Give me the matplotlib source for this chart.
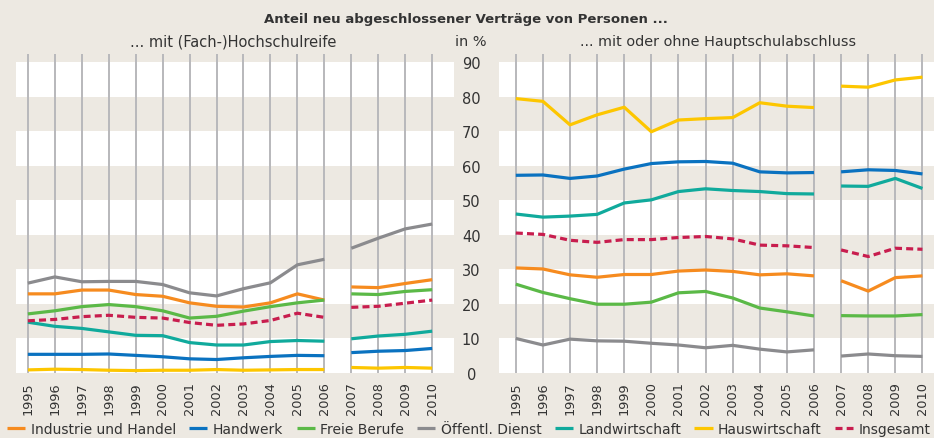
import matplotlib
matplotlib.use('Agg')
import matplotlib.pyplot as plt
import numpy as np

# Jahre und Daten (Anteil in %)
jahre = np.arange(1995, 2011)

# ... mit (Fach-)Hochschulreife
hs_industrie = [22.9, 22.9, 24.0, 24.0, 22.7, 22.2, 20.3, 19.3, 19.1, 20.3, 22.9, 21.1, 24.9, 24.7, 25.9, 27.0]
hs_handwerk = [5.4, 5.4, 5.4, 5.5, 5.1, 4.7, 4.1, 3.9, 4.4, 4.8, 5.1, 5.0, 5.9, 6.3, 6.5, 7.1]
hs_freie = [17.1, 18.0, 19.2, 19.8, 19.2, 18.0, 15.9, 16.4, 17.9, 19.2, 20.3, 21.1, 22.9, 22.7, 23.6, 24.1]
hs_oeffentl = [26.0, 27.8, 26.4, 26.5, 26.5, 25.6, 23.2, 22.3, 24.4, 26.1, 31.3, 32.9, 36.1, 39.0, 41.7, 43.1]
hs_landw = [14.7, 13.5, 12.9, 11.9, 10.9, 10.8, 8.8, 8.1, 8.1, 9.1, 9.4, 9.2, 9.9, 10.7, 11.2, 12.1]
hs_hausw = [0.9, 1.1, 1.0, 0.8, 0.7, 0.8, 0.8, 1.0, 0.8, 0.9, 1.0, 1.0, 1.6, 1.4, 1.6, 1.4]
hs_gesamt = [15.1, 15.5, 16.3, 16.7, 16.1, 15.9, 14.6, 13.8, 14.2, 15.2, 17.3, 16.1, 19.0, 19.3, 20.2, 21.1]

# ... mit oder ohne Hauptschulabschluss
hp_industrie = [30.4, 30.1, 28.4, 27.7, 28.5, 28.5, 29.5, 29.8, 29.4, 28.4, 28.7, 28.1, 26.7, 23.7, 27.6, 28.1]
hp_handwerk = [57.2, 57.3, 56.3, 57.0, 59.0, 60.6, 61.1, 61.2, 60.7, 58.2, 57.9, 58.0, 58.2, 58.8, 58.6, 57.6]
hp_freie = [25.7, 23.3, 21.5, 19.9, 19.9, 20.5, 23.2, 23.6, 21.7, 18.8, 17.7, 16.5, 16.6, 16.5, 16.5, 16.9]
hp_oeffentl = [10.0, 8.1, 9.8, 9.3, 9.2, 8.6, 8.1, 7.3, 8.0, 6.9, 6.1, 6.7, 4.9, 5.5, 5.0, 4.8]
hp_landw = [46.0, 45.1, 45.4, 45.9, 49.2, 50.1, 52.5, 53.3, 52.8, 52.5, 51.9, 51.8, 54.1, 54.0, 56.3, 53.4]
hp_hausw = [79.4, 78.6, 71.8, 74.7, 76.9, 69.8, 73.2, 73.6, 73.9, 78.2, 77.2, 76.8, 83.0, 82.7, 84.8, 85.6]
hp_gesamt = [40.5, 40.1, 38.4, 37.8, 38.6, 38.6, 39.2, 39.5, 38.8, 37.0, 36.8, 36.3, 35.6, 33.7, 36.1, 35.8]

namen = ['Industrie und Handel', 'Handwerk', 'Freie Berufe', 'Öffentl. Dienst',
         'Landwirtschaft', 'Hauswirtschaft', 'Insgesamt']
farben = ['#f68b1f', '#0a72c0', '#5bb947', '#8b8b8e', '#10aa9c', '#fdc600', '#c81d4e']

links = [hs_industrie, hs_handwerk, hs_freie, hs_oeffentl, hs_landw, hs_hausw, hs_gesamt]
rechts = [hp_industrie, hp_handwerk, hp_freie, hp_oeffentl, hp_landw, hp_hausw, hp_gesamt]

bruch = 2006   # Zeitreihenbruch zwischen 2006 und 2007
beige = '#ede9e2'
textfarbe = '#333333'

plt.rcParams['font.family'] = ['DejaVu Sans']

fig = plt.figure(figsize=(9.34, 4.39), dpi=100, facecolor=beige)
ax1 = fig.add_axes([16/934, 1-374/439, 438/934, 319/439])
ax2 = fig.add_axes([499/934, 1-374/439, 437/934, 319/439])


def zeichne(ax, reihen, xlim):
    ax.set_facecolor(beige)
    for y0 in range(0, 90, 20):
        ax.axhspan(y0, y0 + 10, color='white', zorder=0.2, lw=0)
    for j in jahre:
        ax.axvline(j, color='#b8b8bb', lw=1.4, zorder=0.5)
    vor = jahre <= bruch
    nach = jahre > bruch
    for werte, name, farbe in zip(reihen, namen, farben):
        werte = np.array(werte)
        kw = dict(color=farbe, lw=2.3, zorder=3, solid_capstyle='butt')
        if name == 'Insgesamt':
            kw.update(ls=(0, (2.2, 1.3)), zorder=4)
        ax.plot(jahre[vor], werte[vor], label=name, **kw)
        ax.plot(jahre[nach], werte[nach], **kw)
    ax.set_xlim(*xlim)
    ax.set_ylim(0, 92.3)
    ax.set_xticks(jahre)
    ax.set_xticklabels([str(j) for j in jahre], rotation=90, fontsize=9.3, color=textfarbe)
    ax.tick_params(axis='x', length=0, pad=6)
    for s in ax.spines.values():
        s.set_visible(False)


zeichne(ax1, links, (1994.56, 2010.81))
zeichne(ax2, rechts, (1994.38, 2010.5))

ax1.set_yticks([])
ax2.set_yticks(range(0, 91, 10))
ax2.tick_params(axis='y', length=0, pad=20, labelsize=10.5, labelcolor=textfarbe)
for t in ax2.get_yticklabels():
    t.set_horizontalalignment('center')

fig.text(466/934, 1-19/439, 'Anteil neu abgeschlossener Verträge von Personen ...',
         ha='center', va='center', fontsize=9.5, fontweight='bold', color=textfarbe)
fig.text(233/934, 1-42/439, '... mit (Fach-)Hochschulreife',
         ha='center', va='center', fontsize=10.5, color=textfarbe)
fig.text(718/934, 1-42/439, '... mit oder ohne Hauptschulabschluss',
         ha='center', va='center', fontsize=10.4, color=textfarbe)
fig.text(471/934, 1-42/439, 'in %', ha='center', va='center', fontsize=10.4, color=textfarbe)

handles, labels = ax1.get_legend_handles_labels()
fig.legend(handles, labels, loc='center', bbox_to_anchor=(469/934, 1-430/439), ncol=7,
           frameon=False, fontsize=10, handlelength=1.3, handletextpad=0.4,
           columnspacing=0.95, borderaxespad=0, labelcolor=textfarbe)

fig.savefig('out.png', dpi=100, facecolor=beige)
